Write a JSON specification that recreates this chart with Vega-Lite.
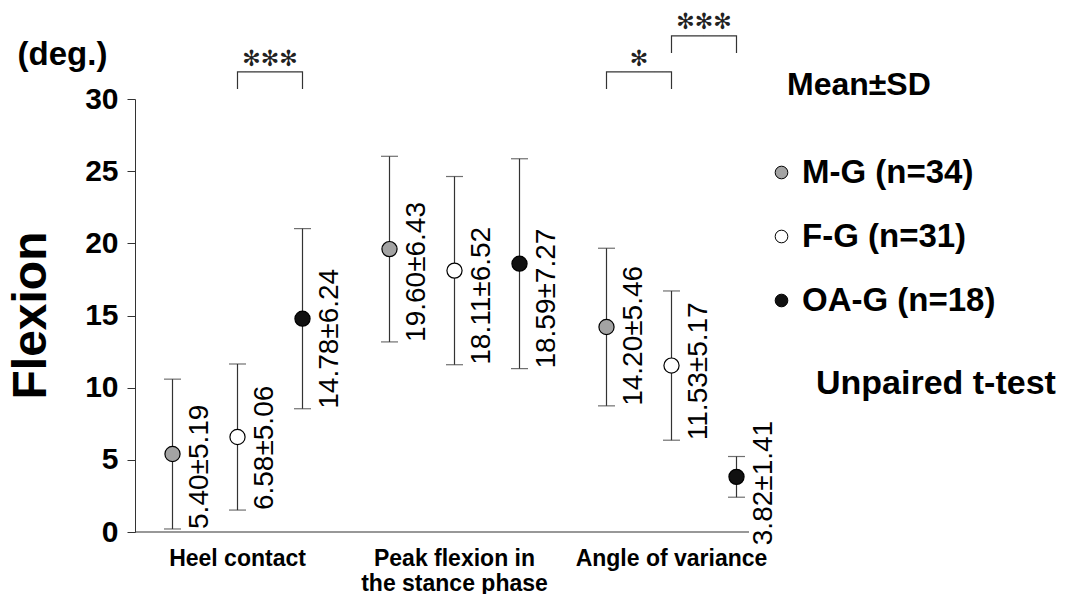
{
  "$schema": "https://vega.github.io/schema/vega-lite/v6.json",
  "width": 614,
  "height": 433,
  "autosize": {"type": "none"},
  "padding": {"left": 135, "top": 99, "right": 334, "bottom": 62},
  "background": "white",
  "config": {"view": {"stroke": null}, "font": "Liberation Sans"},
  "datasets": {
    "stats": [
      {"measure": "Heel contact", "slot": "M-G", "mean": 5.40, "sd": 5.19, "lo": 0.21, "hi": 10.59, "label": "5.40±5.19"},
      {"measure": "Heel contact", "slot": "F-G", "mean": 6.58, "sd": 5.06, "lo": 1.52, "hi": 11.64, "label": "6.58±5.06"},
      {"measure": "Heel contact", "slot": "OA-G", "mean": 14.78, "sd": 6.24, "lo": 8.54, "hi": 21.02, "label": "14.78±6.24"},
      {"measure": "Peak flexion in the stance phase", "slot": "M-G", "mean": 19.60, "sd": 6.43, "lo": 13.17, "hi": 26.03, "label": "19.60±6.43"},
      {"measure": "Peak flexion in the stance phase", "slot": "F-G", "mean": 18.11, "sd": 6.52, "lo": 11.59, "hi": 24.63, "label": "18.11±6.52"},
      {"measure": "Peak flexion in the stance phase", "slot": "OA-G", "mean": 18.59, "sd": 7.27, "lo": 11.32, "hi": 25.86, "label": "18.59±7.27"},
      {"measure": "Angle of variance", "slot": "M-G", "mean": 14.20, "sd": 5.46, "lo": 8.74, "hi": 19.66, "label": "14.20±5.46"},
      {"measure": "Angle of variance", "slot": "F-G", "mean": 11.53, "sd": 5.17, "lo": 6.36, "hi": 16.70, "label": "11.53±5.17"},
      {"measure": "Angle of variance", "slot": "OA-G", "mean": 3.82, "sd": 1.41, "lo": 2.41, "hi": 5.23, "label": "3.82±1.41"}
    ],
    "brackets": [
      {"bracket": "b1", "ord": 1, "measure": "Heel contact", "slot": "F-G", "y": 30.70, "test": "Unpaired t-test"},
      {"bracket": "b1", "ord": 2, "measure": "Heel contact", "slot": "F-G", "y": 31.88, "test": "Unpaired t-test"},
      {"bracket": "b1", "ord": 3, "measure": "Heel contact", "slot": "OA-G", "y": 31.88, "test": "Unpaired t-test"},
      {"bracket": "b1", "ord": 4, "measure": "Heel contact", "slot": "OA-G", "y": 30.70, "test": "Unpaired t-test"},
      {"bracket": "b2", "ord": 1, "measure": "Angle of variance", "slot": "M-G", "y": 30.70, "test": "Unpaired t-test"},
      {"bracket": "b2", "ord": 2, "measure": "Angle of variance", "slot": "M-G", "y": 31.88, "test": "Unpaired t-test"},
      {"bracket": "b2", "ord": 3, "measure": "Angle of variance", "slot": "F-G", "y": 31.88, "test": "Unpaired t-test"},
      {"bracket": "b2", "ord": 4, "measure": "Angle of variance", "slot": "F-G", "y": 30.70, "test": "Unpaired t-test"},
      {"bracket": "b3", "ord": 1, "measure": "Angle of variance", "slot": "F-G", "y": 33.19, "test": "Unpaired t-test"},
      {"bracket": "b3", "ord": 2, "measure": "Angle of variance", "slot": "F-G", "y": 34.37, "test": "Unpaired t-test"},
      {"bracket": "b3", "ord": 3, "measure": "Angle of variance", "slot": "OA-G", "y": 34.37, "test": "Unpaired t-test"},
      {"bracket": "b3", "ord": 4, "measure": "Angle of variance", "slot": "OA-G", "y": 33.19, "test": "Unpaired t-test"}
    ],
    "stars": [
      {"measure": "Heel contact", "slot": "F-G|OA-G", "y": 32.80, "stars": "✻✻✻"},
      {"measure": "Angle of variance", "slot": "M-G|F-G", "y": 32.80, "stars": "✻"},
      {"measure": "Angle of variance", "slot": "F-G|OA-G", "y": 35.36, "stars": "✻✻✻"}
    ]
  },
  "layer": [
    {
      "data": {"name": "stats"},
      "mark": {"type": "rule", "color": "#333333", "strokeWidth": 1.2},
      "encoding": {
        "x": {
          "field": "measure", "type": "nominal",
          "sort": ["Heel contact", "Peak flexion in the stance phase", "Angle of variance"],
          "scale": {"domain": ["Heel contact", "Peak flexion in the stance phase", "Angle of variance"], "range": [-6, 645], "paddingInner": 0, "paddingOuter": 0},
          "axis": {
            "domain": false, "ticks": false, "grid": false,
            "labelFontSize": 23, "labelFontWeight": "bold", "labelColor": "black",
            "labelPadding": 15, "labelAngle": 0, "labelBaseline": "top", "labelLineHeight": 25,
            "labelOverlap": false, "labelBound": false, "labelLimit": 400,
            "labelExpr": "datum.value === 'Peak flexion in the stance phase' ? ['Peak flexion in', 'the stance phase'] : datum.label",
            "title": "(deg.)", "titleX": -73, "titleY": -468, "titleFontSize": 33, "titleFontWeight": "bold",
            "titleAlign": "center", "titleBaseline": "alphabetic", "titleAngle": 0, "titleColor": "black"
          }
        },
        "xOffset": {"field": "slot", "type": "nominal", "scale": {"type": "point", "domain": ["M-G", "M-G|F-G", "F-G", "F-G|OA-G", "OA-G"], "range": [43.5, 173.5], "padding": 0}},
        "y": {
          "field": "lo", "type": "quantitative",
          "scale": {"domain": [0, 30], "nice": false, "zero": true},
          "axis": {
            "values": [0, 2.5, 5, 7.5, 10, 12.5, 15, 17.5, 20, 22.5, 25, 27.5, 30],
            "labelExpr": "datum.value % 5 === 0 ? datum.label : ''",
            "grid": false, "domainColor": "#333333", "tickColor": "#333333",
            "tickSize": {"condition": {"test": "datum.value % 5 === 0", "value": 8}, "value": 4},
            "labelFontSize": 30, "labelFontWeight": "bold", "labelColor": "black", "labelPadding": 9,
            "title": "Flexion", "titleFontSize": 48, "titleFontWeight": "bold", "titleColor": "black",
            "titleX": -90, "titleY": 216, "titleAngle": 270, "titleBaseline": "alphabetic", "titleAlign": "center"
          }
        },
        "y2": {"field": "hi"}
      }
    },
    {
      "data": {"name": "stats"},
      "mark": {"type": "tick", "orient": "horizontal", "size": 17, "thickness": 1.2, "color": "#333333"},
      "encoding": {
        "x": {"field": "measure", "type": "nominal"},
        "xOffset": {"field": "slot", "type": "nominal"},
        "y": {"field": "lo", "type": "quantitative"}
      }
    },
    {
      "data": {"name": "stats"},
      "mark": {"type": "tick", "orient": "horizontal", "size": 17, "thickness": 1.2, "color": "#333333"},
      "encoding": {
        "x": {"field": "measure", "type": "nominal"},
        "xOffset": {"field": "slot", "type": "nominal"},
        "y": {"field": "hi", "type": "quantitative"}
      }
    },
    {
      "data": {"name": "stats"},
      "mark": {"type": "point", "filled": true, "size": 230, "stroke": "black", "strokeWidth": 1.2, "opacity": 1},
      "encoding": {
        "x": {"field": "measure", "type": "nominal"},
        "xOffset": {"field": "slot", "type": "nominal"},
        "y": {"field": "mean", "type": "quantitative"},
        "fill": {
          "field": "slot", "type": "nominal",
          "scale": {"domain": ["M-G", "F-G", "OA-G"], "range": ["#a3a3a3", "#ffffff", "#111111"]},
          "legend": {
            "orient": "none", "legendX": 652, "legendY": -29, "padding": 0,
            "title": "Mean±SD", "titleFontSize": 32, "titleFontWeight": "bold", "titleColor": "black", "titlePadding": 54,
            "labelFontSize": 33, "labelFontWeight": "bold", "labelColor": "black", "labelOffset": 4, "labelLimit": 400,
            "symbolType": "circle", "symbolSize": 160, "symbolStrokeColor": "black", "symbolStrokeWidth": 1, "symbolOpacity": 1,
            "symbolOffset": -22,
            "rowPadding": 30,
            "labelExpr": "datum.label === 'M-G' ? 'M-G (n=34)' : datum.label === 'F-G' ? 'F-G (n=31)' : 'OA-G (n=18)'"
          }
        }
      }
    },
    {
      "data": {"name": "stats"},
      "transform": [{"filter": "datum.measure !== 'Angle of variance' || datum.slot !== 'OA-G'"}],
      "mark": {"type": "text", "angle": 270, "align": "left", "baseline": "middle", "dy": 27, "fontSize": 28, "color": "black"},
      "encoding": {
        "x": {"field": "measure", "type": "nominal"},
        "xOffset": {"field": "slot", "type": "nominal"},
        "y": {"field": "lo", "type": "quantitative"},
        "text": {"field": "label"}
      }
    },
    {
      "data": {"name": "stats"},
      "transform": [{"filter": "datum.measure === 'Angle of variance' && datum.slot === 'OA-G'"}],
      "mark": {"type": "text", "angle": 270, "align": "left", "baseline": "middle", "dy": 27, "dx": -48, "fontSize": 28, "color": "black"},
      "encoding": {
        "x": {"field": "measure", "type": "nominal"},
        "xOffset": {"field": "slot", "type": "nominal"},
        "y": {"field": "lo", "type": "quantitative"},
        "text": {"field": "label"}
      }
    },
    {
      "data": {"name": "brackets"},
      "mark": {"type": "line", "color": "#333333", "strokeWidth": 1.2},
      "encoding": {
        "x": {"field": "measure", "type": "nominal"},
        "xOffset": {"field": "slot", "type": "nominal"},
        "y": {"field": "y", "type": "quantitative"},
        "detail": {"field": "bracket"},
        "order": {"field": "ord", "type": "quantitative"},
        "strokeDash": {
          "field": "test", "type": "nominal",
          "scale": {"domain": ["Unpaired t-test"], "range": [[1, 0]]},
          "legend": {
            "orient": "none", "legendX": 647, "legendY": 268, "padding": 0, "title": null,
            "labelFontSize": 34, "labelFontWeight": "bold", "labelColor": "black", "labelOffset": 0, "labelLimit": 400,
            "symbolOpacity": 0, "symbolSize": 1
          }
        }
      }
    },
    {
      "data": {"name": "stars"},
      "mark": {"type": "text", "font": "DejaVu Sans", "fontSize": 22, "baseline": "middle", "align": "center", "color": "#222222"},
      "encoding": {
        "x": {"field": "measure", "type": "nominal"},
        "xOffset": {"field": "slot", "type": "nominal"},
        "y": {"field": "y", "type": "quantitative"},
        "text": {"field": "stars"}
      }
    },
    {
      "data": {"values": [{}]},
      "mark": {"type": "rule", "color": "#333333", "strokeWidth": 1.2},
      "encoding": {"y": {"datum": 0}}
    }
  ]
}
